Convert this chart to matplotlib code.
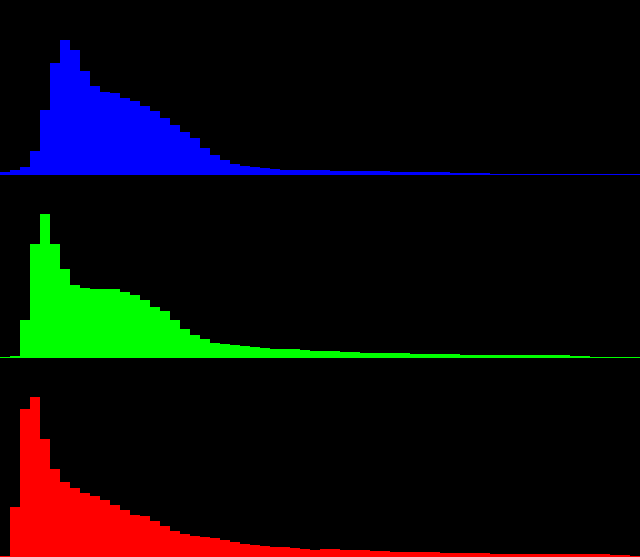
import numpy as np
import matplotlib
matplotlib.use("Agg")
import matplotlib.pyplot as plt

# 64 bins over 0-255 intensity, one list per channel (heights in px-like units)
bin_edges = np.arange(0, 256, 4)

blue_counts = [3.3, 5, 8.3, 24, 65, 112, 135, 125, 104, 89,
               83, 82, 77, 74, 69, 64, 57, 50, 43, 37,
               27, 20, 15, 11, 9, 8, 7, 6, 5.3, 5.3,
               5.3, 4.7, 4.7, 4, 4, 4, 4, 4, 4, 3,
               3, 3, 3, 3, 3, 2, 2, 2, 2, 1.5,
               1, 1, 1, 1, 1, 1, 1, 1, 1, 1,
               1, 1, 1, 1]

green_counts = [1, 2, 38, 113, 143, 113, 89, 73, 70, 69,
                69, 69, 66, 63, 58, 51, 47, 38, 29, 23,
                18.7, 15, 14, 13, 12, 11, 10, 9, 9, 9,
                8, 7, 7, 7, 5.5, 5.5, 4.5, 4.5, 4.5, 4.5,
                4.5, 3.7, 3.7, 3.7, 3.7, 3.7, 2.7, 2.7, 2.7, 2.7,
                2.7, 2.7, 2.7, 2.7, 2.7, 2.7, 2.7, 1.7, 1.7, 0.7,
                0.7, 0.7, 0.7, 0.7]

red_counts = [1, 50, 148, 160, 118, 88, 75, 69, 64, 61,
              57, 52, 47, 42, 41, 36, 31, 26, 23, 21,
              20, 19, 17, 15, 13, 12, 11, 10.5, 10, 9,
              8.5, 7.5, 7.7, 7.7, 7, 7, 7, 6, 6, 5,
              5, 5, 5, 5, 4, 4, 4, 4, 4, 3,
              3, 3, 3, 3, 3, 3, 3, 3, 3, 3,
              3, 2, 2, 1.3]

channels = [("blue", blue_counts, 175.0),
            ("#00ff00", green_counts, 357.5),
            ("red", red_counts, 557.0)]

W, H = 640, 557
panel_h = 175.0

fig = plt.figure(figsize=(W / 100, H / 100), dpi=100, facecolor="black")

for color, counts, base in channels:
    ax = fig.add_axes([0, (H - base) / H, 1, panel_h / H])
    ax.set_facecolor("black")
    ax.bar(bin_edges, counts, width=4, align="edge", color=color,
           linewidth=0, antialiased=False)
    ax.set_xlim(0, 256)
    ax.set_ylim(0, panel_h)
    ax.axis("off")

fig.savefig("out.png", dpi=100, facecolor="black")
